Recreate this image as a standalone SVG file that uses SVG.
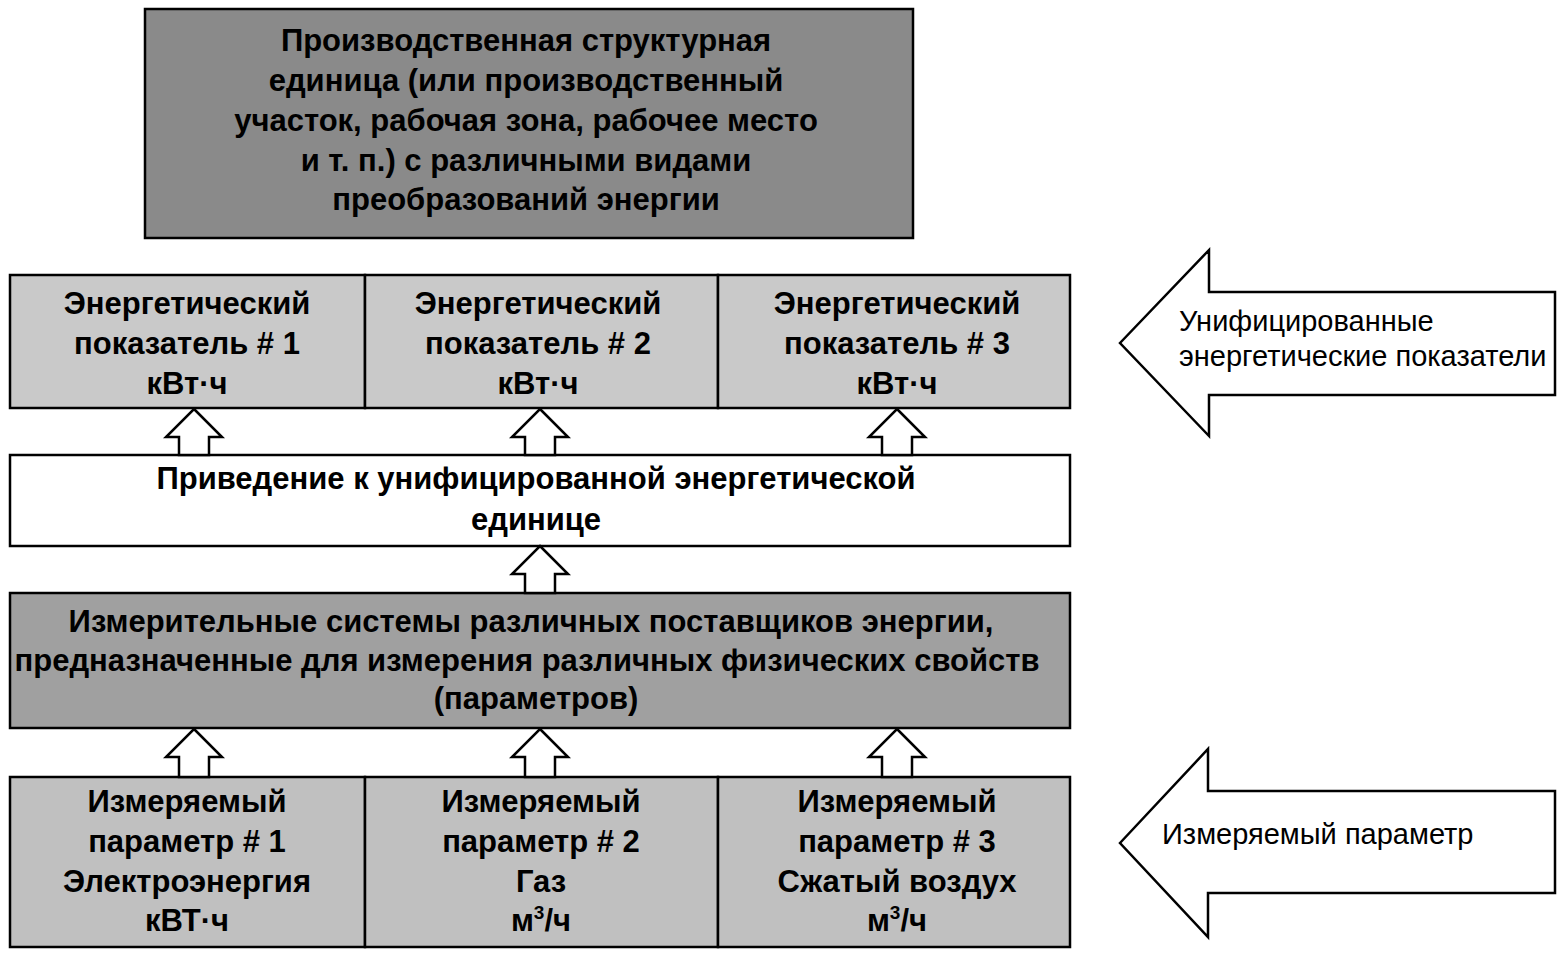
<svg xmlns="http://www.w3.org/2000/svg" width="1566" height="958" viewBox="0 0 1566 958">
<style>
.box{stroke:#000;stroke-width:2.5}
.dark{fill:#8a8a8a}
.mid{fill:#a0a0a0}
.light{fill:#c9c9c9}
.lt2{fill:#c0c0c0}
.white{fill:#fff}
.t{font-family:"Liberation Sans",Arial,sans-serif;font-weight:bold;font-size:31px;fill:#000;text-anchor:middle}
.r{font-family:"Liberation Sans",Arial,sans-serif;font-size:29px;fill:#000}
.arr{fill:#fff;stroke:#000;stroke-width:2.5;stroke-linejoin:miter}
</style>
<rect width="1566" height="958" fill="#fff"/>

<g id="unit">
<rect class="box dark" x="145" y="9" width="768" height="229"/>
<text class="t" x="526" y="51">Производственная структурная</text>
<text class="t" x="526" y="91">единица (или производственный</text>
<text class="t" x="526" y="131">участок, рабочая зона, рабочее место</text>
<text class="t" x="526" y="171">и т. п.) с различными видами</text>
<text class="t" x="526" y="210">преобразований энергии</text>
</g>

<g id="ind1">
<rect class="box light" x="10" y="275" width="355" height="133"/>
<text class="t" x="187" y="314">Энергетический</text>
<text class="t" x="187" y="354">показатель # 1</text>
<text class="t" x="187" y="394">кВт·ч</text>
</g>
<g id="ind2">
<rect class="box light" x="365" y="275" width="353" height="133"/>
<text class="t" x="538" y="314">Энергетический</text>
<text class="t" x="538" y="354">показатель # 2</text>
<text class="t" x="538" y="394">кВт·ч</text>
</g>
<g id="ind3">
<rect class="box light" x="718" y="275" width="352" height="133"/>
<text class="t" x="897" y="314">Энергетический</text>
<text class="t" x="897" y="354">показатель # 3</text>
<text class="t" x="897" y="394">кВт·ч</text>
</g>

<g id="reduce">
<rect class="box white" x="10" y="455" width="1060" height="91"/>
<text class="t" x="536" y="489">Приведение к унифицированной энергетической</text>
<text class="t" x="536" y="530">единице</text>
</g>

<g id="meters">
<rect class="box mid" x="10" y="593" width="1060" height="135"/>
<text class="t" x="531" y="632">Измерительные системы различных поставщиков энергии,</text>
<text class="t" x="527" y="671">предназначенные для измерения различных физических свойств</text>
<text class="t" x="536" y="709">(параметров)</text>
</g>

<g id="par1">
<rect class="box lt2" x="10" y="777" width="355" height="170"/>
<text class="t" x="187" y="812">Измеряемый</text>
<text class="t" x="187" y="852">параметр # 1</text>
<text class="t" x="187" y="892">Электроэнергия</text>
<text class="t" x="187" y="931">кВТ·ч</text>
</g>
<g id="par2">
<rect class="box lt2" x="365" y="777" width="353" height="170"/>
<text class="t" x="541" y="812">Измеряемый</text>
<text class="t" x="541" y="852">параметр # 2</text>
<text class="t" x="541" y="892">Газ</text>
<text class="t" x="541" y="931">м<tspan font-size="19" dy="-12">3</tspan><tspan dy="12">/ч</tspan></text>
</g>
<g id="par3">
<rect class="box lt2" x="718" y="777" width="352" height="170"/>
<text class="t" x="897" y="812">Измеряемый</text>
<text class="t" x="897" y="852">параметр # 3</text>
<text class="t" x="897" y="892">Сжатый воздух</text>
<text class="t" x="897" y="931">м<tspan font-size="19" dy="-12">3</tspan><tspan dy="12">/ч</tspan></text>
</g>

<g id="label-unified">
<path class="arr" d="M1120,343 L1209,250 L1209,292 L1555,292 L1555,395 L1209,395 L1209,436 Z"/>
<text class="r" x="1179" y="331">Унифицированные</text>
<text class="r" x="1179" y="366">энергетические показатели</text>
</g>

<g id="label-measured">
<path class="arr" d="M1120,843 L1208,749 L1208,791 L1555,791 L1555,893 L1208,893 L1208,937 Z"/>
<text class="r" x="1162" y="844">Измеряемый параметр</text>
</g>

<g id="connectors">
<path class="arr" d="M194,409 L222,437 L209,437 L209,455 L179,455 L179,437 L166,437 Z"/>
<path class="arr" d="M540,409 L568,437 L555,437 L555,455 L525,455 L525,437 L512,437 Z"/>
<path class="arr" d="M897,409 L925,437 L912,437 L912,455 L882,455 L882,437 L869,437 Z"/>
<path class="arr" d="M540,546 L568,574 L555,574 L555,593 L525,593 L525,574 L512,574 Z"/>
<path class="arr" d="M194,729 L222,757 L209,757 L209,777 L179,777 L179,757 L166,757 Z"/>
<path class="arr" d="M540,729 L568,757 L555,757 L555,777 L525,777 L525,757 L512,757 Z"/>
<path class="arr" d="M897,729 L925,757 L912,757 L912,777 L882,777 L882,757 L869,757 Z"/>
</g>
</svg>
